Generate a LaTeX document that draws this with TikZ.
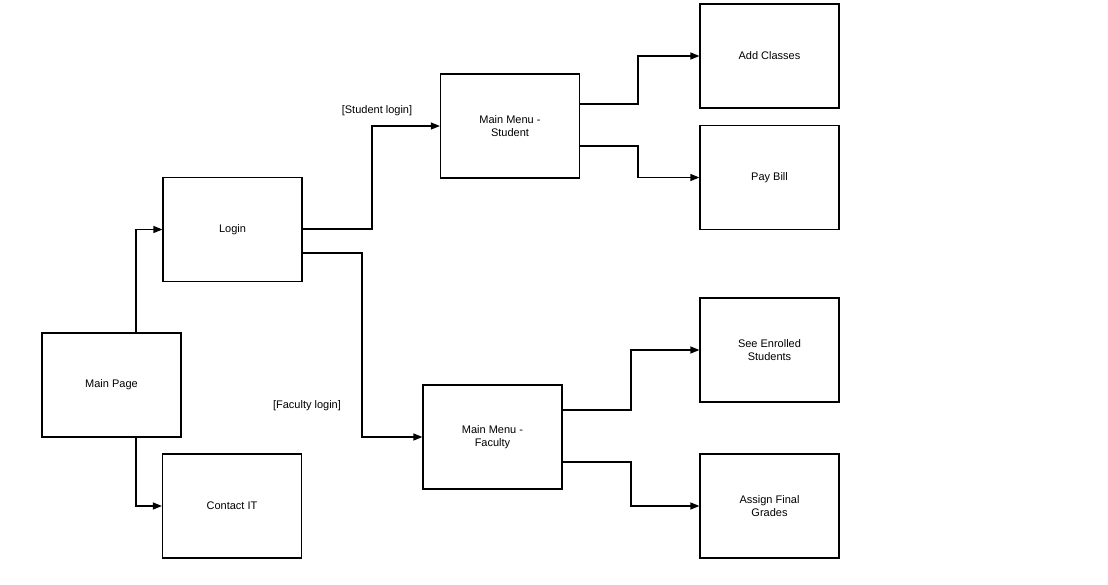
\documentclass[tikz,border=0pt]{standalone}
\usepackage{fontspec}
\setmainfont{Liberation Sans}
\usetikzlibrary{arrows.meta}
\begin{document}
\begin{tikzpicture}[x=1pt,y=-1pt,
  box/.style={draw,line width=1.2pt,minimum width=139pt,minimum height=104pt,align=center,font=\fontsize{11}{13}\selectfont,inner sep=0pt},
  conn/.style={draw,line width=1.2pt,-{Triangle[length=9pt,width=7pt]}},
  lab/.style={font=\fontsize{11}{13}\selectfont}]
\useasboundingbox (0,0) rectangle (1108,584);
\node[box] (mp) at (111.5,385) {Main Page};
\node[box] (login) at (232.5,229.5) {Login};
\node[box] (cit) at (232,506) {Contact IT};
\node[box] (mms) at (510,126) {Main Menu -\\Student};
\node[box] (mmf) at (492.5,437) {Main Menu -\\Faculty};
\node[box] (ac) at (769.5,56) {Add Classes};
\node[box] (pb) at (769.5,177.5) {Pay Bill};
\node[box] (se) at (769.5,350) {See Enrolled\\Students};
\node[box] (ag) at (769.5,506) {Assign Final\\Grades};
\draw[conn] (136,333) |- (login.west);
\draw[conn] (136,437) |- (cit.west);
\draw[conn] (302,229) -| (372,126) -- (mms.west);
\draw[conn] (302,253) -| (362,437) -- (mmf.west);
\draw[conn] (579,104) -| (638,56) -- (ac.west);
\draw[conn] (579,146) -| (638,177.5) -- (pb.west);
\draw[conn] (562,410) -| (631,350) -- (se.west);
\draw[conn] (562,462) -| (631,506) -- (ag.west);
\node[lab] (sl) at (377,111) {[Student login]};
\node[lab] (fl) at (307,406) {[Faculty login]};
\end{tikzpicture}
\end{document}
